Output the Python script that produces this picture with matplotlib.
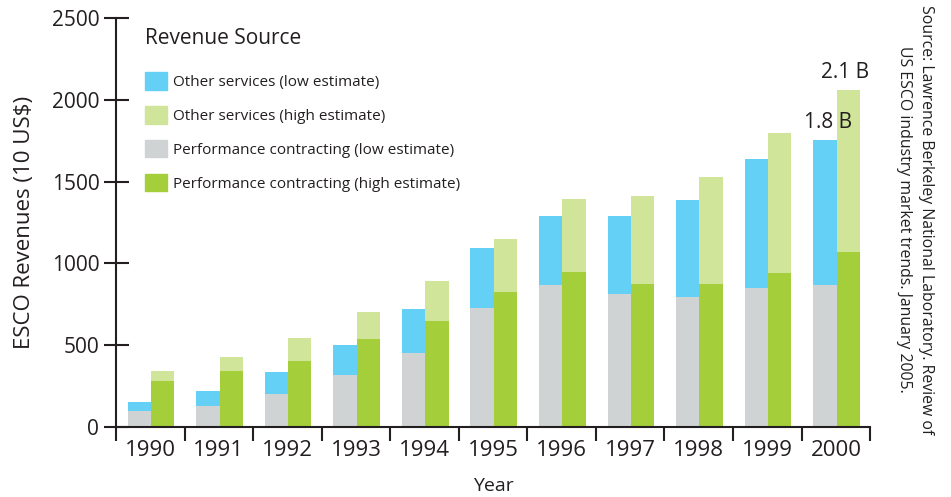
import matplotlib.pyplot as plt
import numpy as np
from matplotlib.patches import Patch
from matplotlib.ticker import FixedLocator

plt.rcParams["font.family"] = ["Open Sans", "DejaVu Sans"]

# ---------------------------------------------------------------------------
# Data.
# ---------------------------------------------------------------------------
years = ["1990", "1991", "1992", "1993", "1994", "1995",
         "1996", "1997", "1998", "1999", "2000"]
perf_low = [95, 130, 200, 320, 450, 725, 870, 810, 795, 850, 870]
total_low = [150, 220, 335, 500, 720, 1095, 1290, 1290, 1385, 1640, 1755]
perf_high = [280, 340, 405, 535, 645, 825, 950, 875, 875, 940, 1070]
total_high = [345, 430, 545, 700, 890, 1150, 1395, 1410, 1530, 1800, 2060]
labels = ["Other services (low estimate)", "Other services (high estimate)",
          "Performance contracting (low estimate)",
          "Performance contracting (high estimate)"]
notes = ["1.8 B", "2.1 B"]

C_BLUE = "#64d0f5"
C_LGREEN = "#d0e59a"
C_GREY = "#d0d3d4"
C_GREEN = "#a4cf3a"
C_INK = "#231f20"

perf_low = np.array(perf_low)
perf_high = np.array(perf_high)
other_low = np.array(total_low) - perf_low
other_high = np.array(total_high) - perf_high
x = np.arange(len(years))

fig = plt.figure(figsize=(9.51, 4.97), dpi=100)
ax = fig.add_axes([0.122, 0.1408, 0.793, 0.823])

w = 0.34
xl = x - 0.16
xh = x + 0.18
ax.bar(xl, perf_low, w, color=C_GREY, lw=0)
ax.bar(xl, other_low, w, bottom=perf_low, color=C_BLUE, lw=0)
ax.bar(xh, perf_high, w, color=C_GREEN, lw=0)
ax.bar(xh, other_high, w, bottom=perf_high, color=C_LGREEN, lw=0)

ax.set_xlim(-0.5, len(years) - 0.5)
ax.set_ylim(0, 2500)

# Axes styling.
for side in ("top", "right"):
    ax.spines[side].set_visible(False)
for side in ("left", "bottom"):
    ax.spines[side].set_color(C_INK)
    ax.spines[side].set_linewidth(1.5)

ax.set_yticks(np.arange(0, 2501, 500))
ax.tick_params(axis="y", direction="inout", length=18, width=1.5,
               color=C_INK, labelsize=15, labelcolor=C_INK, pad=3)
ax.xaxis.set_major_locator(FixedLocator(np.arange(-0.5, len(years), 1.0)))
ax.xaxis.set_minor_locator(FixedLocator(x))
ax.set_xticklabels([], minor=False)
ax.set_xticks(x, years, minor=True)
ax.tick_params(axis="x", which="major", direction="out", length=10,
               width=1.5, color=C_INK)
ax.tick_params(axis="x", which="minor", length=0, labelsize=16,
               labelcolor=C_INK, pad=9)

ax.set_ylabel("ESCO Revenues (10 US$)", fontsize=16, color=C_INK, labelpad=12)
ax.set_xlabel("Year", fontsize=14, color=C_INK, labelpad=12)

# Legend: title as plain text, entries through ax.legend.
ax.text(0.0385, 0.951, "Revenue Source", transform=ax.transAxes,
        ha="left", va="center", fontsize=15, color=C_INK)
handles = [Patch(color=c) for c in (C_BLUE, C_LGREEN, C_GREY, C_GREEN)]
leg = ax.legend(handles, labels, loc="upper left",
                bbox_to_anchor=(0.0305, 0.883), borderaxespad=0,
                frameon=False, fontsize=11, handlelength=1.4,
                handleheight=1.4, handletextpad=0.4, labelspacing=1.05)
for t in leg.get_texts():
    t.set_color(C_INK)

# Totals above the 2000 bars.
ax.text(xl[-1] + 0.05, total_low[-1] + 40, notes[0], ha="center",
        va="bottom", fontsize=15, color=C_INK)
ax.text(xh[-1] - 0.05, total_high[-1] + 40, notes[1], ha="center",
        va="bottom", fontsize=15, color=C_INK)

fig.text(0.962, 0.99,
         "Source: Lawrence Berkeley National Laboratory. Review of\n"
         "US ESCO industry market trends. January 2005.",
         rotation=270, ha="center", va="top", fontsize=11.4, color=C_INK,
         linespacing=1.5)

fig.savefig("out.png", dpi=100)
